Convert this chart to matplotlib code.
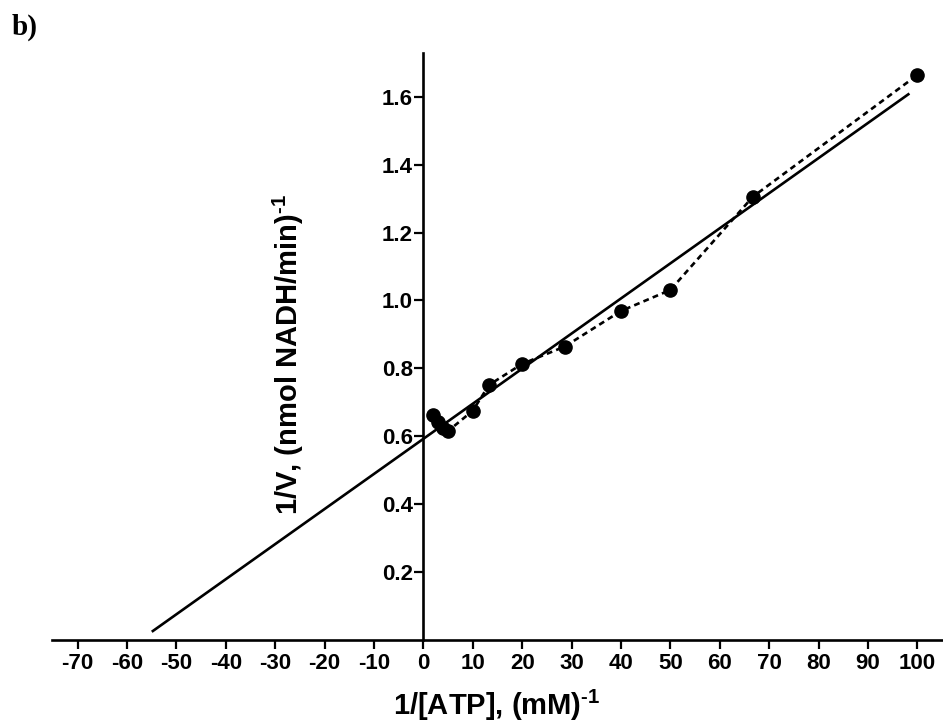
import matplotlib
matplotlib.use("Agg")
import matplotlib.pyplot as plt
import numpy as np

plt.rcParams['font.family'] = ['Liberation Sans', 'DejaVu Sans']
plt.rcParams['font.weight'] = 'bold'
plt.rcParams['mathtext.fontset'] = 'custom'
plt.rcParams['mathtext.rm'] = 'Liberation Sans:bold'
plt.rcParams['mathtext.bf'] = 'Liberation Sans:bold'
plt.rcParams['mathtext.default'] = 'bf'

# Lineweaver-Burk data: 1/[ATP] (mM^-1) vs 1/V ((nmol NADH/min)^-1)
inv_atp = [2, 3, 4, 5, 10, 13.3, 20, 28.6, 40, 50, 66.7, 100]
inv_v = [0.662, 0.642, 0.623, 0.615, 0.675, 0.751, 0.813, 0.864, 0.969, 1.031, 1.306, 1.665]

# Linear fit: 1/V = slope * 1/[ATP] + intercept
fit_slope = 0.01035
fit_intercept = 0.592
fit_x_range = [-55.0, 98.4]

x_ticks = list(range(-70, 101, 10))
y_ticks = [0.2, 0.4, 0.6, 0.8, 1.0, 1.2, 1.4, 1.6]

fig = plt.figure(figsize=(9.43, 7.22), dpi=100)
ax = fig.add_axes([52 / 943, (722 - 639.5) / 722, (943 - 52) / 943, (639.5 - 53) / 722])

fx = np.array(fit_x_range)
ax.plot(fx, fit_slope * fx + fit_intercept, color='black', lw=1.9, solid_capstyle='butt')
ax.plot(inv_atp, inv_v, color='black', lw=1.9, ls=(0, (2.2, 1.6)), marker='o',
        markersize=9.5, markerfacecolor='black', markeredgecolor='black')

ax.set_xlim(-75.2, 105.2)
ax.set_ylim(0, 1.73)

ax.spines['top'].set_visible(False)
ax.spines['right'].set_visible(False)
ax.spines['left'].set_position(('data', 0))
ax.spines['left'].set_linewidth(1.9)
ax.spines['bottom'].set_linewidth(1.9)

ax.set_xticks(x_ticks)
ax.set_xticklabels([str(t) for t in x_ticks])
ax.set_yticks(y_ticks)
ax.set_yticklabels([f"{t:.1f}" for t in y_ticks])
ax.tick_params(axis='both', direction='out', length=6.5, width=1.6, labelsize=16)
ax.tick_params(axis='x', pad=3)
ax.tick_params(axis='y', pad=1)
for lbl in ax.get_xticklabels() + ax.get_yticklabels():
    lbl.set_fontweight('bold')

ax.set_xlabel(r"1/[ATP], (mM)$^{\text{-1}}$", fontsize=21, fontweight='bold')
ax.set_ylabel(r"1/V, (nmol NADH/min)$^{\text{-1}}$", fontsize=21, fontweight='bold')
ax.xaxis.set_label_coords((497 - 52) / 891, (639.5 - 688) / 586.5)
ax.xaxis.label.set_va('top')
ax.yaxis.set_label_coords((306 - 52) / 891, (639.5 - 355) / 586.5)

fig.text(12 / 943, 1 - 35 / 722, "b)", fontsize=21, fontweight='bold',
         family=['Liberation Serif', 'DejaVu Serif'], va='baseline', ha='left')

fig.savefig("out.png", dpi=100)
